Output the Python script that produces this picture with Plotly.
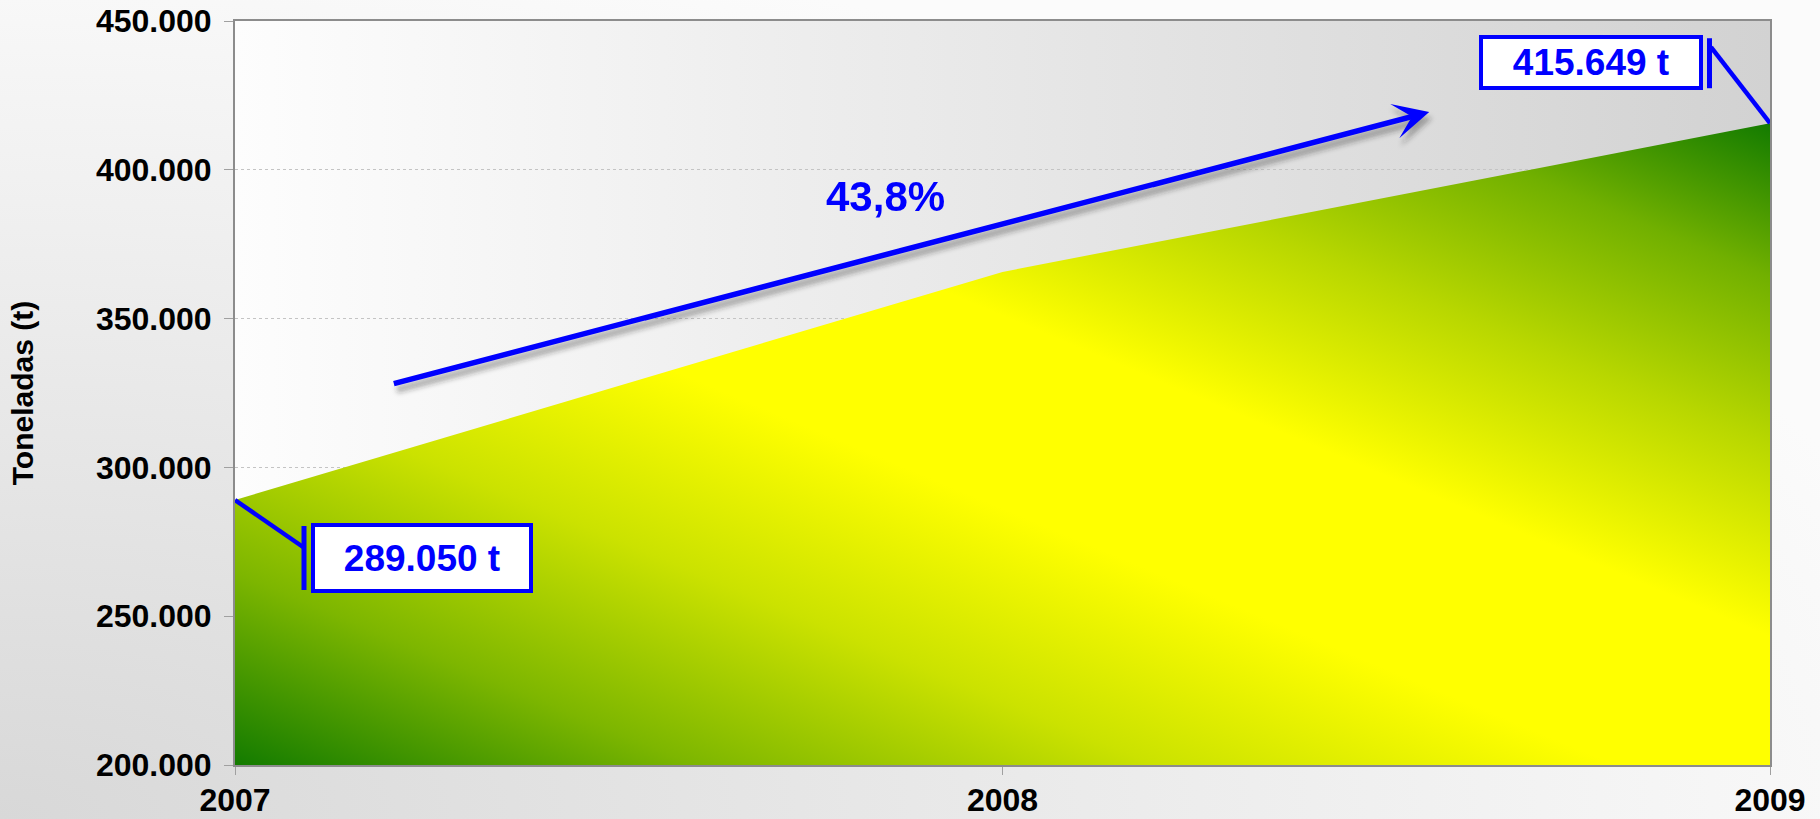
import plotly.graph_objects as go

# ---- data ----
YEARS = [2007, 2008, 2009]
TONS = [289050, 365700, 415649]
Y_TICKS = [200000, 250000, 300000, 350000, 400000, 450000]
Y_MIN, Y_MAX = 200000, 450000
Y_TITLE = "Toneladas (t)"

# growth arrow (tail / head in data units) and label position
ARROW_TAIL = (2007.205, 328000)
ARROW_HEAD = (2008.556, 419400)
PCT_POS = (2007.848, 390900)

BLUE = "#0000ff"
FONT = "Arial, 'Liberation Sans', sans-serif"


def fmt_t(v):
    return f"{v:,}".replace(",", ".") + " t"


growth = (TONS[-1] / TONS[0] - 1) * 100
pct_text = f"{growth:.1f}%".replace(".", ",")

fig = go.Figure()

# baseline at axis minimum (for the area fill)
fig.add_trace(go.Scatter(
    x=YEARS, y=[Y_MIN] * len(YEARS), mode="lines",
    line=dict(width=0, color="rgba(0,0,0,0)"), hoverinfo="skip", showlegend=False,
))
# area
fig.add_trace(go.Scatter(
    x=YEARS, y=TONS, mode="lines", fill="tonexty",
    fillcolor="#e8ee00", line=dict(width=0, color="rgba(0,0,0,0)"),
    hoverinfo="skip", showlegend=False,
))

annotations = []
# arrow shadow (index 0, blurred in post script)
annotations.append(dict(
    x=ARROW_HEAD[0], y=ARROW_HEAD[1], ax=ARROW_TAIL[0], ay=ARROW_TAIL[1],
    xref="x", yref="y", axref="x", ayref="y", text="", showarrow=True,
    arrowhead=3, arrowsize=0.9, arrowwidth=7, arrowcolor="rgba(40,40,40,0.35)",
    xshift=3, yshift=-6, standoff=0,
))
# arrow
annotations.append(dict(
    x=ARROW_HEAD[0], y=ARROW_HEAD[1], ax=ARROW_TAIL[0], ay=ARROW_TAIL[1],
    xref="x", yref="y", axref="x", ayref="y", text="", showarrow=True,
    arrowhead=3, arrowsize=1.08, arrowwidth=5.5, arrowcolor=BLUE, standoff=0,
))
# percentage label
annotations.append(dict(
    x=PCT_POS[0], y=PCT_POS[1], xref="x", yref="y", text=pct_text, showarrow=False,
    font=dict(family=FONT, size=42, color=BLUE, weight="bold"),
    xanchor="center", yanchor="middle",
))
# value callouts
annotations.append(dict(
    x=YEARS[0], y=TONS[0], xref="x", yref="y", text=fmt_t(TONS[0]), showarrow=False,
    xanchor="left", yanchor="top", xshift=75.5, yshift=-23,
    width=214, height=62, bgcolor="white", bordercolor=BLUE, borderwidth=4, borderpad=0,
    align="center", valign="middle",
    font=dict(family=FONT, size=37, color=BLUE, weight="bold"),
))
annotations.append(dict(
    x=YEARS[-1], y=TONS[-1], xref="x", yref="y", text=fmt_t(TONS[-1]), showarrow=False,
    xanchor="right", yanchor="top", xshift=-67, yshift=88,
    width=216, height=47, bgcolor="white", bordercolor=BLUE, borderwidth=4, borderpad=0,
    align="center", valign="middle",
    font=dict(family=FONT, size=37, color=BLUE, weight="bold"),
))

shapes = []
# leader lines and small bars (pixel offsets anchored at the data points)
shapes.append(dict(type="line", xref="x", yref="y", xsizemode="pixel", ysizemode="pixel",
                   xanchor=YEARS[0], yanchor=TONS[0], x0=0, y0=0, x1=69.5, y1=-48,
                   line=dict(color=BLUE, width=4.5)))
shapes.append(dict(type="rect", xref="x", yref="y", xsizemode="pixel", ysizemode="pixel",
                   xanchor=YEARS[0], yanchor=TONS[0], x0=66.5, x1=71.5, y0=-26, y1=-90,
                   fillcolor=BLUE, line=dict(width=0)))
shapes.append(dict(type="line", xref="x", yref="y", xsizemode="pixel", ysizemode="pixel",
                   xanchor=YEARS[-1], yanchor=TONS[-1], x0=0, y0=0, x1=-59, y1=76,
                   line=dict(color=BLUE, width=4.5)))
shapes.append(dict(type="rect", xref="x", yref="y", xsizemode="pixel", ysizemode="pixel",
                   xanchor=YEARS[-1], yanchor=TONS[-1], x0=-63, x1=-58, y0=35, y1=85,
                   fillcolor=BLUE, line=dict(width=0)))

fig.update_layout(
    width=1820, height=819,
    margin=dict(l=235, r=50, t=21, b=54, autoexpand=False),
    paper_bgcolor="rgba(0,0,0,0)",
    plot_bgcolor="#ececec",
    separators=",.",
    showlegend=False,
    hovermode=False,
    font=dict(family=FONT, color="black"),
    annotations=annotations,
    shapes=shapes,
    xaxis=dict(
        range=[YEARS[0], YEARS[-1]], tickvals=YEARS, ticktext=[str(y) for y in YEARS],
        showgrid=False, zeroline=False, automargin=False,
        showline=True, linecolor="#8c8c8c", linewidth=2, mirror=True,
        ticks="outside", ticklen=8, tickcolor="#a0a0a0", tickwidth=1,
        ticklabelstandoff=-2,
        tickfont=dict(family=FONT, size=32, color="black", weight="bold"),
    ),
    yaxis=dict(
        range=[Y_MIN, Y_MAX], tickvals=Y_TICKS, tickformat=",d",
        showgrid=True, gridcolor="#c4c4c4", gridwidth=1, griddash="3px,3px",
        zeroline=False, automargin=False,
        showline=True, linecolor="#8c8c8c", linewidth=2, mirror=True,
        ticks="outside", ticklen=9, tickcolor="#a0a0a0", tickwidth=1,
        ticklabelstandoff=6,
        tickfont=dict(family=FONT, size=32, color="black", weight="bold"),
        title=dict(text=Y_TITLE, standoff=53,
                   font=dict(family=FONT, size=30, color="black", weight="bold")),
    ),
)

POST = r"""
(function(){
  var gd = document.getElementById('{plot_id}');
  document.body.style.margin = '0';
  document.body.style.overflow = 'hidden';
  gd.style.background = 'radial-gradient(ellipse 2000px 900px at 0% 100%, #d8d8d8 0%, #fbfbfb 100%)';
  var NS = 'http://www.w3.org/2000/svg';
  function addGrad(defs, id, x1, y1, x2, y2, stops){
    var g = document.createElementNS(NS, 'linearGradient');
    g.setAttribute('id', id);
    g.setAttribute('x1', x1); g.setAttribute('y1', y1);
    g.setAttribute('x2', x2); g.setAttribute('y2', y2);
    stops.forEach(function(s){
      var st = document.createElementNS(NS, 'stop');
      st.setAttribute('offset', s[0]); st.setAttribute('stop-color', s[1]); g.appendChild(st);
    });
    defs.appendChild(g);
  }
  function fix(){
    var svgs = gd.querySelectorAll('svg.main-svg');
    if (!svgs.length) return;
    svgs.forEach(function(svg){
      var defs = svg.querySelector('defs');
      if (!defs){ defs = document.createElementNS(NS, 'defs'); svg.insertBefore(defs, svg.firstChild); }
      if (!svg.querySelector('#areaGradX')) {
        addGrad(defs, 'areaGradX', '0', '1', '1', '0', [
          ['0', '#137b00'], ['0.15', '#7db600'], ['0.30', '#cbe200'], ['0.45', '#ffff00'],
          ['0.60', '#ffff00'], ['0.75', '#b8d700'], ['0.88', '#71b000'], ['1', '#137b00']]);
        addGrad(defs, 'bgGradX', '0', '0', '1', '0', [['0', '#fdfdfd'], ['1', '#d2d2d2']]);
        var f = document.createElementNS(NS, 'filter');
        f.setAttribute('id', 'shadowBlurX');
        f.setAttribute('x', '-20%'); f.setAttribute('y', '-50%');
        f.setAttribute('width', '140%'); f.setAttribute('height', '200%');
        var gb = document.createElementNS(NS, 'feGaussianBlur');
        gb.setAttribute('stdDeviation', '2.5');
        f.appendChild(gb);
        defs.appendChild(f);
      }
    });
    gd.querySelectorAll('.scatterlayer .js-fill').forEach(function(p){
      p.style.fill = 'url(#areaGradX)';
    });
    var bg = gd.querySelector('.bglayer .bg');
    if (bg) bg.style.fill = 'url(#bgGradX)';
    var sh = gd.querySelector('.annotation[data-index="0"]');
    if (sh) sh.setAttribute('filter', 'url(#shadowBlurX)');
  }
  fix();
  if (gd.on) gd.on('plotly_afterplot', fix);
  setTimeout(fix, 0);
  setTimeout(fix, 300);
})();
"""

fig.write_html("out.html", config={"displayModeBar": False}, post_script=POST)
